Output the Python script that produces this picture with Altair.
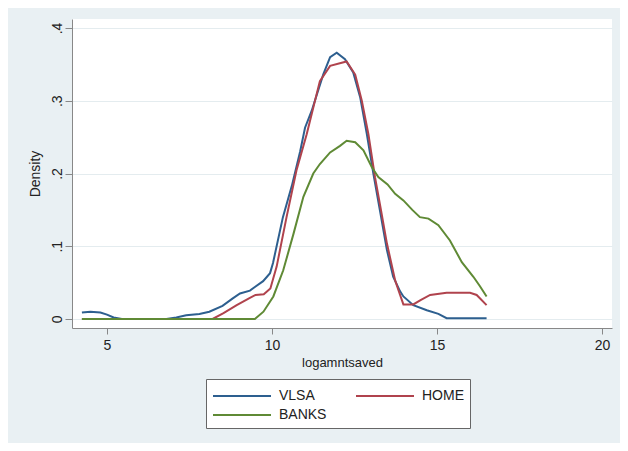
import altair as alt
import pandas as pd

series_names = ["VLSA", "HOME", "BANKS"]
series_colors = ["#2d5f8f", "#b0434d", "#5f8a35"]

vlsa_x = [4.24, 4.5, 4.8, 5.0, 5.2, 5.45, 6.0, 6.8, 7.1, 7.4, 7.8, 8.1, 8.5, 8.8, 9.03, 9.33,
          9.48, 9.73, 9.94, 10.03, 10.33, 10.6, 10.85, 11.0, 11.2, 11.55, 11.76, 11.96, 12.21,
          12.46, 12.67, 12.87, 13.07, 13.27, 13.48, 13.67, 13.88, 13.98, 14.28, 14.69, 15.04,
          15.29, 16.5]
vlsa_y = [0.009, 0.01, 0.009, 0.006, 0.002, 0.0, 0.0, 0.0, 0.002, 0.005, 0.007, 0.01, 0.018,
          0.028, 0.035, 0.039, 0.044, 0.052, 0.063, 0.077, 0.14, 0.183, 0.23, 0.263, 0.286,
          0.336, 0.36, 0.366, 0.357, 0.339, 0.305, 0.255, 0.2, 0.149, 0.095, 0.058, 0.038,
          0.031, 0.019, 0.012, 0.007, 0.001, 0.001]

home_x = [4.24, 8.2, 8.53, 8.93, 9.33, 9.5, 9.75, 9.95, 10.14, 10.44, 10.74, 11.05, 11.45,
          11.76, 12.26, 12.52, 12.72, 12.92, 13.12, 13.3, 13.48, 13.73, 13.88, 13.98, 14.28,
          14.5, 14.79, 15.29, 16.0, 16.2, 16.5]
home_y = [0.0, 0.0, 0.008, 0.019, 0.029, 0.033, 0.034, 0.042, 0.072, 0.14, 0.204, 0.254,
          0.327, 0.348, 0.354, 0.336, 0.3, 0.254, 0.195, 0.15, 0.104, 0.053, 0.033, 0.02,
          0.02, 0.026, 0.033, 0.036, 0.036, 0.033, 0.019]

banks_x = [4.24, 9.48, 9.74, 10.04, 10.34, 10.65, 10.95, 11.25, 11.45, 11.76, 12.06, 12.26,
           12.52, 12.77, 13.02, 13.22, 13.5, 13.73, 13.98, 14.25, 14.48, 14.74, 15.04, 15.39,
           15.75, 16.1, 16.3, 16.5]
banks_y = [0.0, 0.0, 0.01, 0.031, 0.067, 0.117, 0.168, 0.2, 0.213, 0.229, 0.238, 0.245,
           0.243, 0.232, 0.209, 0.195, 0.185, 0.172, 0.163, 0.15, 0.14, 0.138, 0.129, 0.108,
           0.078, 0.058, 0.045, 0.031]

x_ticks = [5, 10, 15, 20]
y_ticks = [0, 0.1, 0.2, 0.3, 0.4]

rows = []
for name, xs, ys in [("VLSA", vlsa_x, vlsa_y), ("HOME", home_x, home_y), ("BANKS", banks_x, banks_y)]:
    for a, b in zip(xs, ys):
        rows.append({"series": name, "x": a, "y": b})
df = pd.DataFrame(rows)

FONT = "Liberation Sans"

chart = alt.Chart(df).mark_line(strokeWidth=2).encode(
    x=alt.X("x:Q",
            scale=alt.Scale(domain=[3.94, 20.3], nice=False, zero=False),
            axis=alt.Axis(values=x_ticks, grid=False, tickSize=6, title="logamntsaved",
                          labelFont=FONT, labelFontSize=14, labelColor="#222",
                          titleFont=FONT, titleFontSize=13, titleFontWeight="normal",
                          titleColor="#222", domainColor="#888", tickColor="#888",
                          labelPadding=4, titlePadding=4)),
    y=alt.Y("y:Q",
            scale=alt.Scale(domain=[-0.0124, 0.4124], nice=False, zero=False),
            axis=alt.Axis(values=y_ticks, grid=True, gridColor="#e4ecef", tickSize=7,
                          labelAngle=270, labelAlign="center", labelBaseline="bottom",
                          labelExpr="datum.value == 0 ? '0' : replace(format(datum.value, '.1f'), '0.', '.')",
                          title="Density", labelFont=FONT, labelFontSize=14, labelColor="#222",
                          titleFont=FONT, titleFontSize=14, titleFontWeight="normal",
                          titleColor="#222", domainColor="#888", tickColor="#888",
                          labelPadding=1, titlePadding=8)),
    color=alt.Color("series:N",
                    scale=alt.Scale(domain=series_names, range=series_colors),
                    legend=alt.Legend(title=None, orient="none", legendX=134, legendY=360,
                                      direction="horizontal", columns=2,
                                      symbolType="M-2.9,0H2.9", symbolSize=400,
                                      symbolStrokeWidth=2, symbolOffset=19,
                                      strokeColor="#666", fillColor="white", padding=6,
                                      labelFont=FONT, labelFontSize=14, labelColor="#222",
                                      columnPadding=25, rowPadding=1, labelOffset=26)),
).properties(
    width=540, height=309,
    autosize=alt.AutoSizeParams(type="none"),
    padding={"left": 64, "top": 11, "right": 8, "bottom": 115},
    background="#e9f0f3",
).configure_view(fill="white", strokeWidth=0)

chart.save("out.html", embed_options={"renderer": "svg", "actions": False})
